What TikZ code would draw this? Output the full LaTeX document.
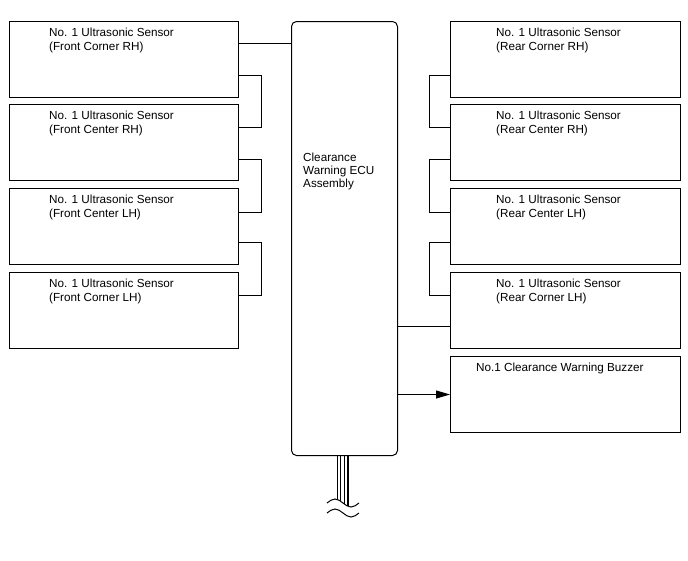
\documentclass[tikz,border=0pt]{standalone}
\usepackage{fontspec}
\setmainfont{Liberation Sans}
\usetikzlibrary{calc,arrows.meta}
\begin{document}
\begin{tikzpicture}[x=1pt,y=-1pt,
  box/.style={draw, line width=1pt, rectangle, minimum width=229pt, minimum height=76pt, inner sep=0pt, anchor=north west},
  rbox/.style={box, minimum width=230pt},
  ecu/.style={draw, line width=1pt, rectangle, rounded corners=5pt, minimum width=106pt, minimum height=434pt, inner sep=0pt, anchor=north west},
  lbl/.style={anchor=base west, inner sep=0pt, align=left, font=\fontsize{11.7}{13.2}\selectfont},
  link/.style={line width=1pt},
  wire/.style={line width=1.1pt},
]
\useasboundingbox (0,0) rectangle (688,560);

% ECU
\node[ecu] (ECU) at (291,21) {};
\node[lbl] (ECUt) at ($(ECU.north west)+(12,166.4)$) {Clearance\\Warning ECU\\Assembly};

% left sensors
\node[box] (L1) at (9,21) {};
\node[box] (L2) at (9,104) {};
\node[box] (L3) at (9,188) {};
\node[box] (L4) at (9,272) {};
\node[lbl] (L1t) at ($(L1.north west)+(40,29)$) {No. 1 Ultrasonic Sensor\\(Front Corner RH)};
\node[lbl] (L2t) at ($(L2.north west)+(40,29)$) {No. 1 Ultrasonic Sensor\\(Front Center RH)};
\node[lbl] (L3t) at ($(L3.north west)+(40,29)$) {No. 1 Ultrasonic Sensor\\(Front Center LH)};
\node[lbl] (L4t) at ($(L4.north west)+(40,29)$) {No. 1 Ultrasonic Sensor\\(Front Corner LH)};

% right sensors
\node[rbox] (R1) at (450,21) {};
\node[rbox] (R2) at (450,104) {};
\node[rbox] (R3) at (450,188) {};
\node[rbox] (R4) at (450,272) {};
\node[rbox] (BZ) at (450,356) {};
\node[lbl] (R1t) at ($(R1.north west)+(46,29)$) {No. 1 Ultrasonic Sensor\\(Rear Corner RH)};
\node[lbl] (R2t) at ($(R2.north west)+(46,29)$) {No. 1 Ultrasonic Sensor\\(Rear Center RH)};
\node[lbl] (R3t) at ($(R3.north west)+(46,29)$) {No. 1 Ultrasonic Sensor\\(Rear Center LH)};
\node[lbl] (R4t) at ($(R4.north west)+(46,29)$) {No. 1 Ultrasonic Sensor\\(Rear Corner LH)};
\node[lbl] (BZt) at ($(BZ.north west)+(26,15)$) {No.1 Clearance Warning Buzzer};

% left links
\draw[link] ($(L1.north east)+(0,22)$) -- ($(ECU.north west)+(0,22)$);
\draw[link] ($(L1.north east)+(0,54)$) -- ++(22,0) |- ($(L2.north east)+(0,23)$);
\draw[link] ($(L2.north east)+(0,55)$) -- ++(22,0) |- ($(L3.north east)+(0,24)$);
\draw[link] ($(L3.north east)+(0,54)$) -- ++(22,0) |- ($(L4.north east)+(0,23)$);

% right links
\draw[link] ($(R1.north west)+(0,54)$) -- ++(-21,0) |- ($(R2.north west)+(0,23)$);
\draw[link] ($(R2.north west)+(0,55)$) -- ++(-21,0) |- ($(R3.north west)+(0,24)$);
\draw[link] ($(R3.north west)+(0,54)$) -- ++(-21,0) |- ($(R4.north west)+(0,23)$);
\coordinate (R4in) at ($(R4.north west)+(0,54)$);
\draw[link] (ECU.east |- R4in) -- (R4in);
\draw[link, -{Triangle[length=14pt,width=8pt]}] (ECU.east |- BZ.west) -- (BZ.west);

% harness at bottom
\coordinate (w1) at (337.5,499.6);
\coordinate (w2) at (340.5,501.2);
\coordinate (w3) at (344.5,504.2);
\coordinate (w4) at (348,506.3);
\draw[wire] (ECU.south -| w1) -- (w1);
\draw[wire] (ECU.south -| w2) -- (w2);
\draw[wire] (ECU.south -| w3) -- (w3);
\draw[wire] (ECU.south -| w4) -- (w4);
\draw[link] (327,503) sin (335,499) cos (343,503) sin (351,507) cos (359,503);
\draw[link] (327,513) sin (335,509) cos (343,513) sin (351,517) cos (359,513);
\end{tikzpicture}
\end{document}
